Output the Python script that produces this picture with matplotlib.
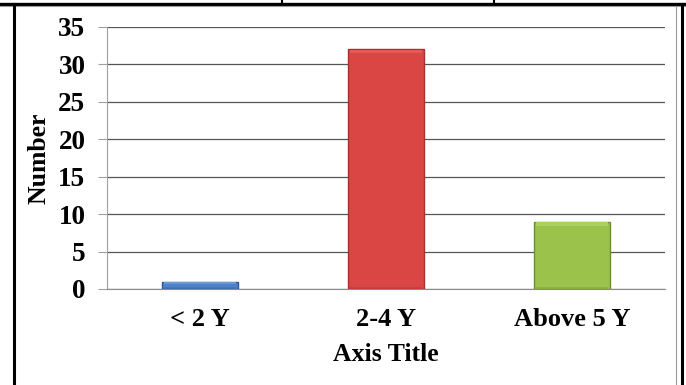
import matplotlib.pyplot as plt
from matplotlib.lines import Line2D
import numpy as np

# Datos del grafico
categorias = ["< 2 Y", "2-4 Y", "Above 5 Y"]
valores = [1, 32, 9]
yticks = [0, 5, 10, 15, 20, 25, 30, 35]

colores = ["#4f81c8", "#d94644", "#9bc24a"]
claros = ["#6a96d6", "#e55a57", "#acd05e"]
oscuros = ["#2e5a94", "#a8302e", "#6f8f2c"]

plt.rcParams["font.family"] = ["Liberation Serif", "DejaVu Serif"]
plt.rcParams["font.weight"] = "bold"

fig = plt.figure(figsize=(6.86, 3.85), dpi=100)
ax = fig.add_axes([107 / 686, 1 - 289 / 385, 558 / 686, 262 / 385])

x = np.arange(len(categorias))
ancho = 0.405
vals = np.array(valores, dtype=float)

# barra principal
ax.bar(x, vals, width=ancho, color=colores, edgecolor=oscuros,
       linewidth=1.0, zorder=3)
# bisel claro arriba
bisel = np.minimum(0.45, vals * 0.3)
ax.bar(x, bisel, bottom=vals - bisel - 0.08, width=ancho * 0.95, color=claros,
       linewidth=0, zorder=4)
# sombra abajo
ax.bar(x, bisel * 0.6, bottom=0.05, width=ancho * 0.95, color=oscuros,
       alpha=0.3, linewidth=0, zorder=4)

ax.set_xlim(-0.5, 2.5)
ax.set_ylim(0, 35)
ax.set_yticks(yticks)
ax.set_xticks(x)
ax.set_xticklabels(categorias)
ax.yaxis.grid(True, color="#555555", linewidth=0.9, zorder=0)
ax.set_axisbelow(True)

for s in ["top", "right"]:
    ax.spines[s].set_visible(False)
ax.spines["left"].set_color("#a0a0a0")
ax.spines["bottom"].set_color("#8c8c8c")
ax.tick_params(axis="y", length=6.5, color="#a0a0a0", pad=9, labelsize=19.5)
ax.tick_params(axis="x", length=0, pad=14, labelsize=19)

ax.set_ylabel("Number", fontsize=18.5, fontweight="bold", labelpad=6)
ax.set_xlabel("Axis Title", fontsize=18.5, fontweight="bold", labelpad=8)

# bordes de la tabla
W, H = 686, 385
def linea(x0, y0, x1, y1, c, lw):
    fig.add_artist(Line2D([x0 / W, x1 / W], [1 - y0 / H, 1 - y1 / H],
                          color=c, linewidth=lw, transform=fig.transFigure))

linea(0, 3.5, W, 3.5, "black", 2.4)
linea(0, 6, W, 6, "#9a9a9a", 0.8)
linea(14, 3.5, 14, H, "black", 2.2)
linea(682, 3.5, 682, H, "black", 2.2)
linea(676, 6, 676, H, "#9a9a9a", 0.8)
linea(282, 0, 282, 3, "black", 1.5)
linea(494, 0, 494, 3, "black", 1.5)

fig.savefig("out.png", dpi=100)
